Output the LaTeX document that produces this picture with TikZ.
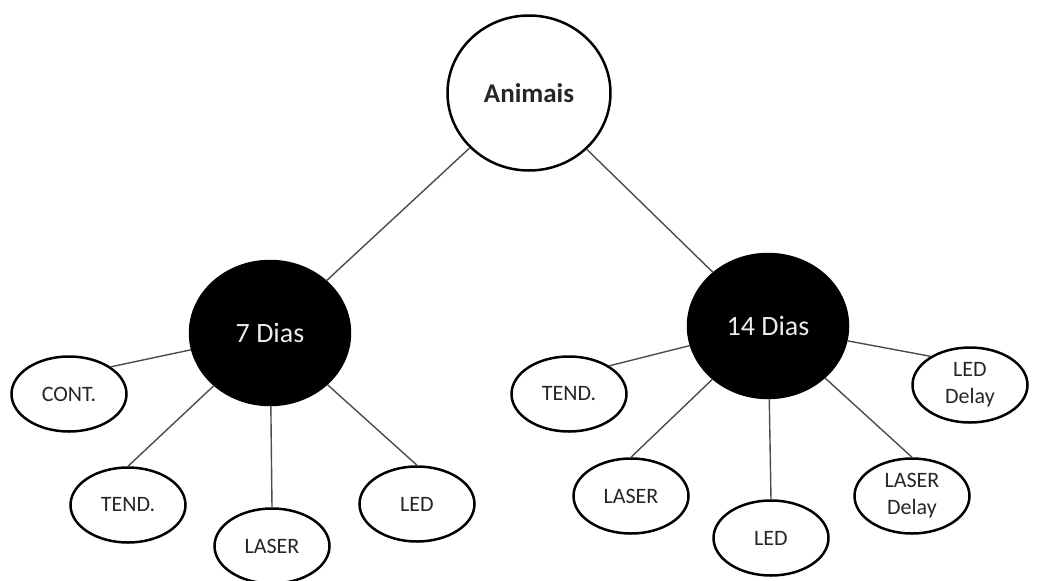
\documentclass[tikz,border=0pt]{standalone}
\usepackage{fontspec}
\setmainfont{Carlito}
\usetikzlibrary{shapes,positioning}
\tikzset{
  basic/.style = {draw, ellipse, line width=2.5pt, inner sep=0pt, align=center},
  root/.style  = {basic, fill=white, minimum width=163pt, minimum height=155pt,
                  font=\fontsize{27}{32}\selectfont\bfseries, text=black!85},
  days/.style  = {basic, fill=black, text=white!92!black, minimum width=160pt,
                  minimum height=144pt, font=\fontsize{28}{33}\selectfont},
  leaf/.style  = {basic, fill=white, minimum width=115pt, minimum height=75pt,
                  font=\fontsize{22}{27}\selectfont, text=black!85},
  link/.style  = {draw=black!70, line width=1.4pt}
}

\begin{document}
\begin{tikzpicture}[x=1pt,y=-1pt]
\useasboundingbox (0,0) rectangle (1037,581);
\node[root] (animais) at (529,93) {Animais};
\node[days] (d7) at (270,333) {7 Dias};
\node[days] (d14) at (768,326) {14 Dias};
\node[leaf] (cont7) at (69,394) {CONT.};
\node[leaf] (tend7) at (128,505) {TEND.};
\node[leaf] (laser7) at (272,546) {LASER};
\node[leaf] (led7) at (417,504) {LED};
\node[leaf] (tend14) at (569,394) {TEND.};
\node[leaf] (laser14) at (631,496) {LASER};
\node[leaf] (led14) at (771,538) {LED};
\node[leaf] (laserd14) at (912,496) {LASER\\Delay};
\node[leaf] (ledd14) at (970,385) {LED\\Delay};
\draw[link] (animais) -- (d7);
\draw[link] (animais) -- (d14);
\draw[link] (d7) -- (cont7.33);
\draw[link] (d7) -- (tend7.north);
\draw[link] (d7) -- (laser7.north);
\draw[link] (d7) -- (led7.north);
\draw[link] (d14) -- (tend14.35);
\draw[link] (d14) -- (laser14.north);
\draw[link] (d14) -- (led14.north);
\draw[link] (d14) -- (laserd14.north);
\draw[link] (d14) -- (ledd14.144);
\end{tikzpicture}
\end{document}
